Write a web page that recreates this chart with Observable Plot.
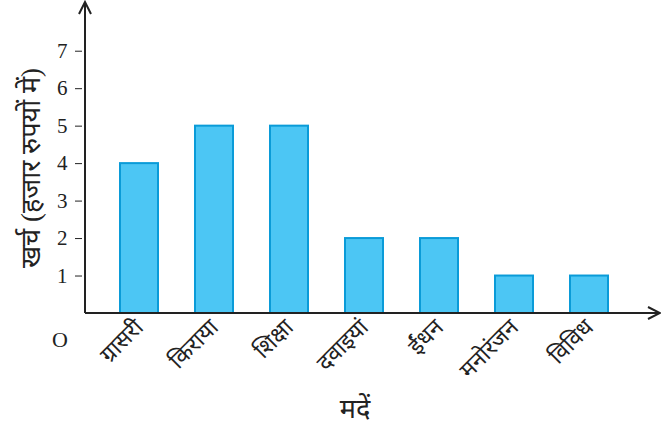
<!DOCTYPE html>
<html><head><meta charset="utf-8">
<script src="https://cdn.jsdelivr.net/npm/d3@7"></script>
<script src="https://cdn.jsdelivr.net/npm/@observablehq/plot@0.6"></script>
<style>body{margin:0;background:#fff}</style>
</head><body><div id="chart"></div>
<script>
const categories = ["ग्रासरी", "किराया", "शिक्षा", "दवाइयां", "ईंधन", "मनोरंजन", "विविध"]
const values = [4, 5, 5, 2, 2, 1, 1]
const yTicks = [1, 2, 3, 4, 5, 6, 7]
const data = categories.map((c, i) => ({mad: c, kharch: values[i]}))

let chart = Plot.plot({
  width: 661, height: 430,
  marginLeft: 82, marginRight: 16.5, marginTop: 2, marginBottom: 117,
  style: {fontFamily: "'Liberation Serif', 'Noto Sans', serif", fontSize: 20, color: "#222"},
  x: {domain: categories, padding: 0.5, label: null},
  y: {domain: [0, 8.3], label: null},
  marks: [
    Plot.barY(data, {x: "mad", y: "kharch", fill: "#4CC6F4", stroke: "#0A9BD8", strokeWidth: 2}),
    Plot.axisY({ticks: yTicks, tickSize: 7, tickPadding: 8, fontSize: 21, label: null}),
    Plot.axisX({tickSize: 0, tickRotate: -45, tickPadding: 10, fontSize: 23, label: null})
  ]
})

const y = chart.scale("y")
const svg = d3.select(chart)
const y0 = y.apply(0), x0 = 85
svg.append("line").attr("x1", x0).attr("x2", x0).attr("y1", y0).attr("y2", 4).attr("stroke", "#222").attr("stroke-width", 2)
svg.append("line").attr("x1", x0).attr("x2", 658).attr("y1", y0).attr("y2", y0).attr("stroke", "#222").attr("stroke-width", 2)
svg.append("path").attr("d", `M${x0-6},${14} L${x0},2 L${x0+6},${14}`).attr("fill", "none").attr("stroke", "#222").attr("stroke-width", 2)
svg.append("path").attr("d", `M648,${y0-6} L660,${y0} L648,${y0+6}`).attr("fill", "none").attr("stroke", "#222").attr("stroke-width", 2)
svg.append("text").attr("x", 60).attr("y", 347).attr("text-anchor", "middle").attr("font-size", 22).text("O")
svg.append("text").attr("transform", "translate(40,168) rotate(-90)").attr("text-anchor", "middle").attr("font-size", 27).text("खर्च (हजार रुपयों में)")
svg.append("text").attr("x", 355).attr("y", 418).attr("text-anchor", "middle").attr("font-size", 27).text("मदें")

d3.select('#chart').append(() => chart)
</script></body></html>
